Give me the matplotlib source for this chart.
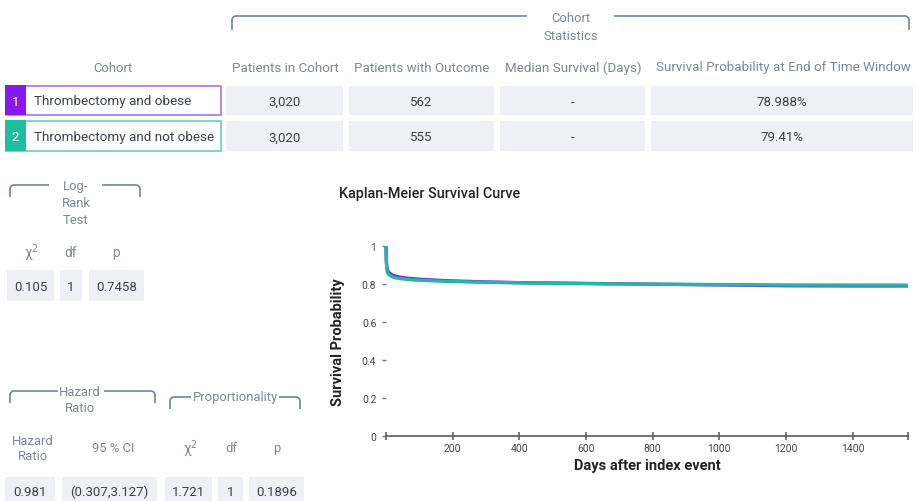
import numpy as np
import matplotlib
matplotlib.use("Agg")
import matplotlib.pyplot as plt
from matplotlib.patches import Rectangle

plt.rcParams['font.family'] = ['Roboto', 'DejaVu Sans']

# ---- data -------------------------------------------------------------
cohort_names = ["Thrombectomy and obese", "Thrombectomy and not obese"]
stat_headers = ["Patients in Cohort", "Patients with Outcome",
                "Median Survival (Days)", "Survival Probability at End of Time Window"]
patients_in_cohort = ["3,020", "3,020"]
patients_with_outcome = ["562", "555"]
median_survival = ["-", "-"]
end_survival = ["78.988%", "79.41%"]

logrank_headers = ["χ$^2$", "df", "p"]
logrank_values = ["0.105", "1", "0.7458"]

hr_headers = ["Hazard\nRatio", "95 % CI", "χ$^2$", "df", "p"]
hr_values = ["0.981", "(0.307,3.127)", "1.721", "1", "0.1896"]

# Kaplan-Meier estimates (days, survival probability)
km_days = [0, 1, 2, 3, 5, 8, 12, 20, 30, 45, 60, 80, 100, 150, 200, 300,
           400, 500, 600, 700, 800, 900, 1000, 1100, 1200, 1400, 1566]
km_obese = [1.0, 0.93, 0.90, 0.885, 0.872, 0.862, 0.855, 0.846, 0.840,
            0.835, 0.831, 0.828, 0.825, 0.820, 0.816, 0.811, 0.807, 0.805,
            0.803, 0.801, 0.799, 0.797, 0.795, 0.793, 0.791, 0.790, 0.78988]
km_not_obese = [1.0, 0.92, 0.885, 0.870, 0.858, 0.850, 0.845, 0.837, 0.832,
                0.828, 0.825, 0.822, 0.820, 0.816, 0.813, 0.809, 0.806, 0.804,
                0.802, 0.800, 0.799, 0.798, 0.797, 0.796, 0.795, 0.7945, 0.7941]

x_ticks = [0, 200, 400, 600, 800, 1000, 1200, 1400]
y_ticks = [0, 0.2, 0.4, 0.6, 0.8, 1.0]
y_ticklabels = ["0", "0.2", "0.4", "0.6", "0.8", "1"]

# ---- style ------------------------------------------------------------
PURPLE = "#8a17ee"
PURPLE_EDGE = "#a873f2"
TEAL = "#1dbf9f"
TEAL_EDGE = "#64d2bb"
CELL = "#eff0f5"
HEAD = "#7f8595"
VAL = "#3b404c"
BRACKET = "#70859a"

W, H = 919, 502
fig = plt.figure(figsize=(W / 100, H / 100), dpi=100)
fig.patch.set_facecolor("white")

ov = fig.add_axes([0, 0, 1, 1])
ov.set_xlim(0, W)
ov.set_ylim(H, 0)
ov.axis("off")


def bracket(x0, x1, y0, y1, gap0, gap1, r=4):
    t = np.linspace(np.pi, 1.5 * np.pi, 8)
    lx = np.concatenate([[x0], x0 + r + r * np.cos(t), [gap0]])
    ly = np.concatenate([[y1], y0 + r + r * np.sin(t), [y0]])
    t2 = np.linspace(1.5 * np.pi, 2 * np.pi, 8)
    rx = np.concatenate([[gap1], x1 - r + r * np.cos(t2), [x1]])
    ry = np.concatenate([[y0], y0 + r + r * np.sin(t2), [y1]])
    ov.plot(lx, ly, color=BRACKET, lw=1.2, solid_capstyle="butt")
    ov.plot(rx, ry, color=BRACKET, lw=1.2, solid_capstyle="butt")


def cell(x0, x1, y0, y1, text, fs=9.5, color=VAL):
    ov.add_patch(Rectangle((x0, y0), x1 - x0, y1 - y0, facecolor=CELL, edgecolor="none"))
    ov.text((x0 + x1) / 2, (y0 + y1) / 2 + 1, text, ha="center", va="center",
            fontsize=fs, color=color)


def head(x, y, text, fs=9.4):
    ov.text(x, y, text, ha="center", va="center", fontsize=fs, color=HEAD,
            linespacing=1.2)


# ---- cohort statistics table ------------------------------------------
bracket(232, 909, 17, 31, 527, 614)
head(571, 19, "Cohort")
head(571, 36, "Statistics")

head(113, 68, "Cohort")
for x, t in zip([285, 422, 573, 783], stat_headers):
    head(x, 68, t, fs=9.6)

row_y = [(86, 116), (121, 152)]
badge_colors = [PURPLE, TEAL]
edge_colors = [PURPLE_EDGE, TEAL_EDGE]
col_x = [(226, 343), (349, 494), (500, 645), (651, 913)]
for i, (y0, y1) in enumerate(row_y):
    ov.add_patch(Rectangle((5.5, y0 + 0.5), 215, y1 - y0 - 1, facecolor="white",
                           edgecolor=edge_colors[i], lw=1.2))
    ov.add_patch(Rectangle((5, y0), 21, y1 - y0, facecolor=badge_colors[i],
                           edgecolor="none"))
    ov.text(15.5, (y0 + y1) / 2 + 1, str(i + 1), ha="center", va="center",
            color="white", fontsize=9.5)
    ov.text(34, (y0 + y1) / 2 + 1, cohort_names[i], ha="left", va="center",
            color=VAL, fontsize=9.7)
    vals = [patients_in_cohort[i], patients_with_outcome[i],
            median_survival[i], end_survival[i]]
    for (x0, x1), v in zip(col_x, vals):
        cell(x0, x1, y0 + 1, y1, v)

# ---- log-rank test ----------------------------------------------------
bracket(10, 140, 186, 198, 49, 102)
head(76, 187, "Log-")
head(76, 204, "Rank")
head(76, 221, "Test")
for x, t in zip([31, 71, 116], logrank_headers):
    head(x, 253, t, fs=9.8)
for (x0, x1), v in zip([(7, 54), (60, 82), (89, 144)], logrank_values):
    cell(x0, x1, 271, 302, v)

# ---- hazard ratio / proportionality -----------------------------------
bracket(10, 155, 392, 404, 58, 104)
head(80, 393, "Hazard")
head(80, 409, "Ratio")
bracket(170, 300, 398, 410, 191, 279)
head(236, 398, "Proportionality")
for x, t in zip([33, 113, 190, 231, 277], hr_headers):
    head(x, 449, t, fs=9.8 if "χ" in t else 9.4)
for (x0, x1), v in zip([(5, 55), (62, 157), (165, 212), (218, 243), (249, 304)],
                       hr_values):
    cell(x0, x1, 478, 505, v)

# ---- Kaplan-Meier plot ------------------------------------------------
x_end = km_days[-1]
ax = fig.add_axes([386 / W, 1 - 437 / H, 522 / W, 190 / H])
ax.set_facecolor("none")
ax.plot(km_days, km_obese, color=PURPLE, lw=2.4, clip_on=False,
        solid_capstyle="butt", solid_joinstyle="miter")
ax.plot(km_days, km_not_obese, color="#1fb9a6", lw=2.4, clip_on=False,
        solid_capstyle="butt", solid_joinstyle="miter")
ax.set_xlim(0, x_end)
ax.set_ylim(0, 1)

for s in ["top", "right", "left"]:
    ax.spines[s].set_visible(False)
ax.spines["bottom"].set_color("#555a62")
ax.spines["bottom"].set_linewidth(1.2)

ax.set_xticks(x_ticks)
ax.set_xticklabels([""] + [str(v) for v in x_ticks[1:]])
ax.set_xticks([x_end], minor=True)
ax.tick_params(axis="x", which="both", direction="inout", length=6, width=1.1,
               color="#555a62", labelsize=7.5, labelcolor="#444", pad=2)
ax.set_yticks(y_ticks)
ax.set_yticklabels(y_ticklabels)
ax.tick_params(axis="y", direction="out", length=3, width=1, color="#777",
               labelsize=7.5, labelcolor="#444", pad=4)

ax.set_xlabel("Days after index event", fontsize=10.5, fontweight="bold",
              color="#222", labelpad=4)
ax.set_ylabel("Survival Probability", fontsize=10.5, fontweight="bold",
              color="#222", labelpad=12)
ov.text(339, 194, "Kaplan-Meier Survival Curve", ha="left", va="center",
        fontsize=10.4, fontweight="medium", color="#222")

fig.savefig("out.png", dpi=100, facecolor="white")
